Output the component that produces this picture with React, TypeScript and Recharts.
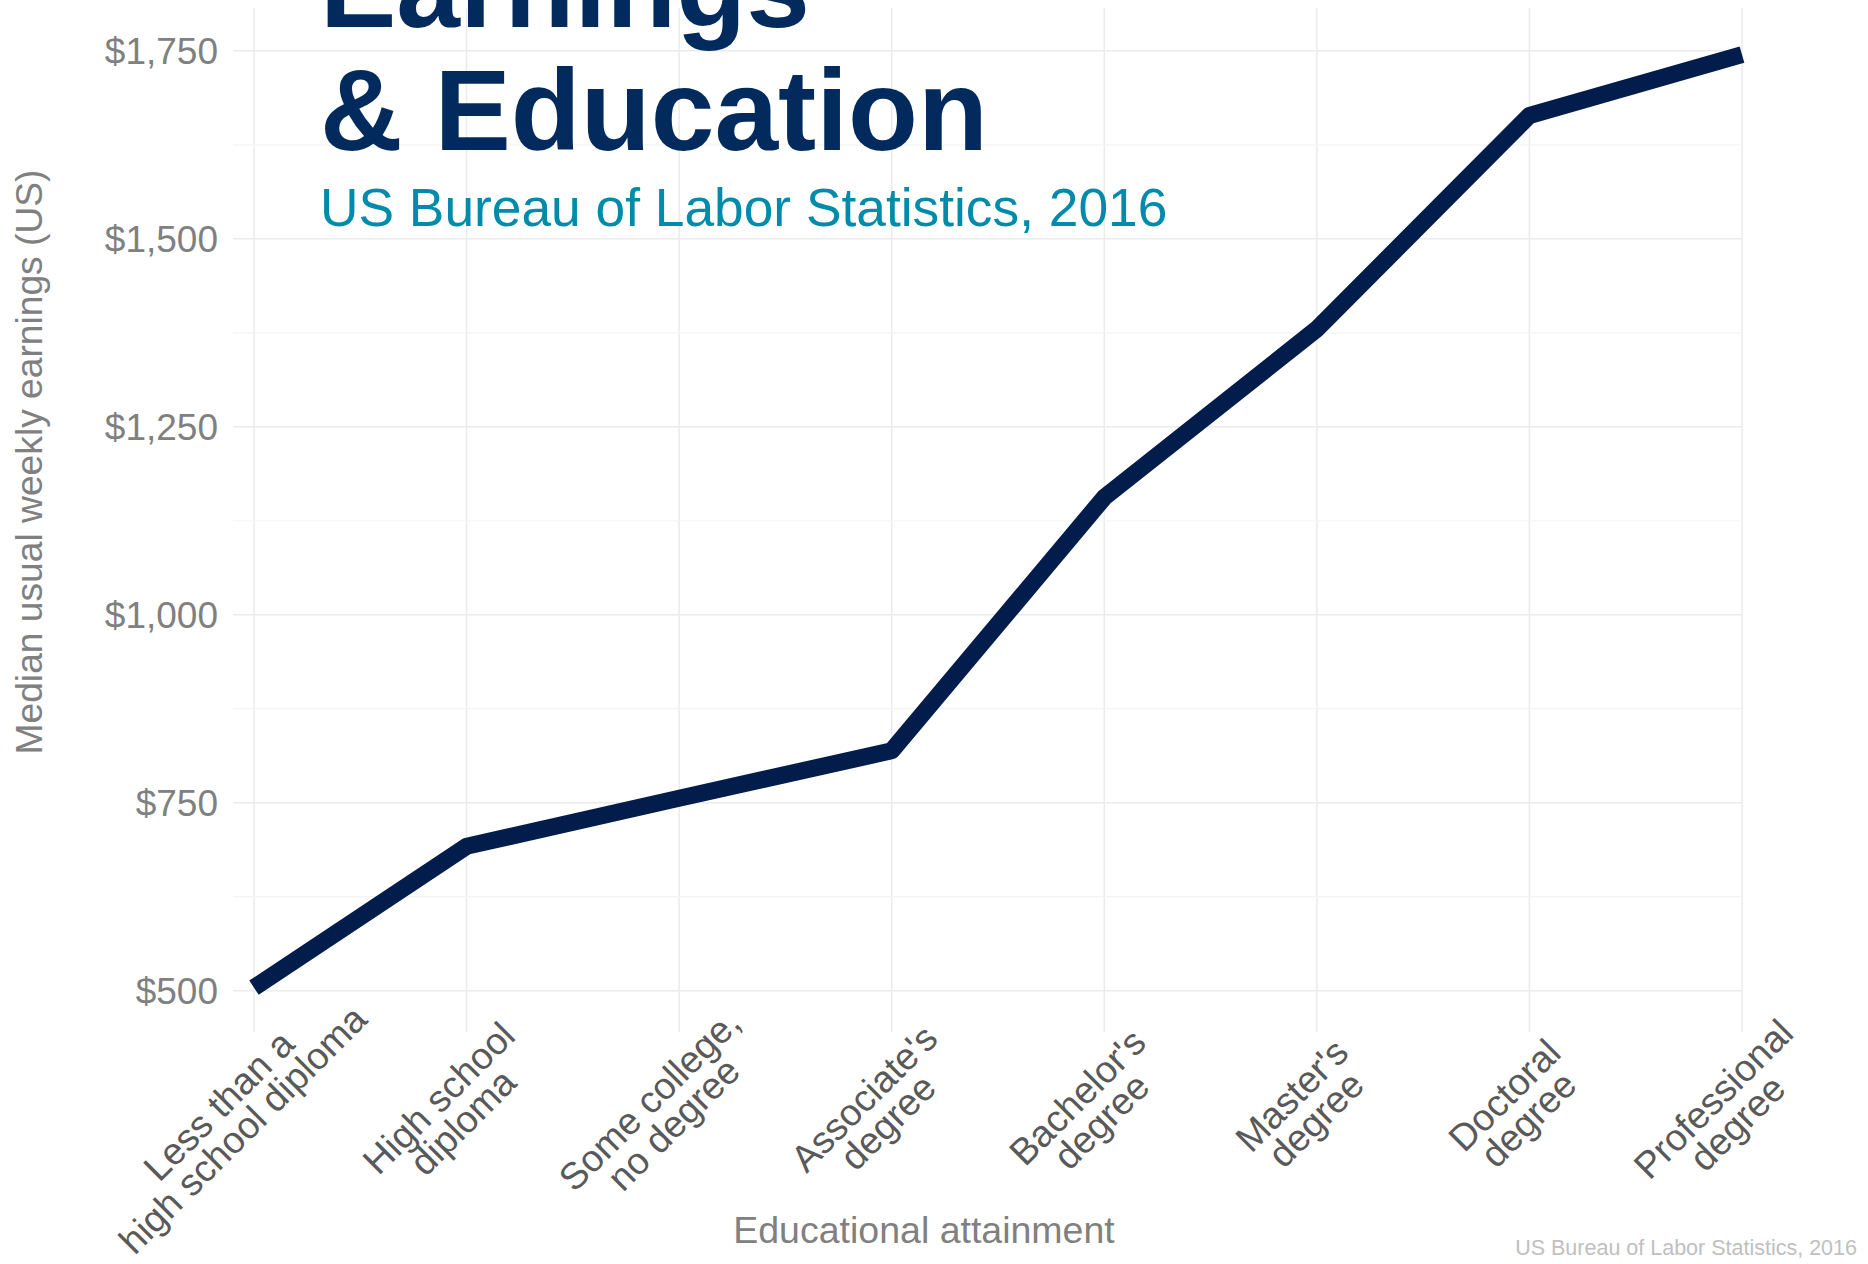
import React from 'react';
import { LineChart, Line, XAxis, YAxis, CartesianGrid, ReferenceLine } from 'recharts';

// Median usual weekly earnings by educational attainment, BLS 2016
const CATEGORIES = [
  'Less than a\nhigh school diploma',
  'High school\ndiploma',
  'Some college,\nno degree',
  "Associate's\ndegree",
  "Bachelor's\ndegree",
  "Master's\ndegree",
  'Doctoral\ndegree',
  'Professional\ndegree',
];
const EARNINGS = [504, 692, 756, 819, 1156, 1380, 1664, 1745];
const Y_TICKS = [500, 750, 1000, 1250, 1500, 1750];
const Y_MINOR = [625, 875, 1125, 1375, 1625];

const data = CATEGORIES.map((name, i) => ({ name, earnings: EARNINGS[i] }));

const W = 1868;
const H = 1264;
const FONT = '"Liberation Sans", Arial, Helvetica, sans-serif';
const TICK_FS = 37.5;

const money = (v: number) => '$' + v.toLocaleString('en-US');

// rotated two-line labels, slightly right-justified like ggplot's hjust
function XTick(props: any) {
  const { x, y, payload } = props;
  const lines = String(payload.value).split('\n');
  const w = Math.max(...lines.map((l) => l.length)) * 0.5 * TICK_FS;
  const along = -52 - 0.07 * w;
  const perp = 40;
  const dx = (along + perp) * 0.7071;
  const dy = (-along + perp) * 0.7071;
  return (
    <g transform={`translate(${x},${y})`}>
      <text
        transform={`translate(${dx},${dy}) rotate(-45)`}
        textAnchor="middle"
        fill="#595959"
        fontSize={TICK_FS}
        fontFamily={FONT}
      >
        {lines.map((l, i) => (
          <tspan key={i} x={0} dy={i === 0 ? 0 : 34}>
            {l}
          </tspan>
        ))}
      </text>
    </g>
  );
}

export default function App() {
  return (
    <div
      style={{
        position: 'absolute',
        left: 0,
        top: 0,
        width: W,
        height: H,
        background: '#fff',
        fontFamily: FONT,
      }}
    >
      <LineChart
        width={W}
        height={H}
        data={data}
        margin={{ top: 8, right: 126, bottom: 0, left: 0 }}
      >
        <CartesianGrid stroke="#ebebeb" strokeWidth={1.5} syncWithTicks />
        {Y_MINOR.map((v) => (
          <ReferenceLine key={v} y={v} stroke="#f4f4f4" strokeWidth={1.2} />
        ))}
        <XAxis
          dataKey="name"
          interval={0}
          height={232}
          padding={{ left: 21, right: 0 }}
          axisLine={false}
          tickLine={false}
          tickSize={0}
          tickMargin={0}
          tick={<XTick />}
          label={{
            content: () => (
              <text x={924} y={1243} textAnchor="middle" fill="#808080" fontSize={37.5} fontFamily={FONT}>
                Educational attainment
              </text>
            ),
          }}
        />
        <YAxis
          width={233}
          domain={[445, 1807]}
          ticks={Y_TICKS}
          tickFormatter={money}
          axisLine={false}
          tickLine={false}
          tickSize={0}
          tickMargin={15}
          tick={{ fill: '#808080', fontSize: 37, fontFamily: FONT }}
          label={{
            content: () => (
              <text
                x={42}
                y={462}
                transform="rotate(-90 42 462)"
                textAnchor="middle"
                fill="#808080"
                fontSize={37.2}
                fontFamily={FONT}
              >
                Median usual weekly earnings (US)
              </text>
            ),
          }}
        />
        <Line
          type="linear"
          dataKey="earnings"
          stroke="#021c4b"
          strokeWidth={17}
          strokeLinejoin="round"
          dot={false}
          activeDot={false}
          isAnimationActive={false}
        />
      </LineChart>
      <svg
        width={W}
        height={H}
        style={{ position: 'absolute', left: 0, top: 0, pointerEvents: 'none' }}
      >
        <text x={320} y={27} fill="#022a5c" fontSize={114.5} fontWeight="bold" fontFamily={FONT}>
          Earnings
        </text>
        <text x={320} y={150} fill="#022a5c" fontSize={114.5} fontWeight="bold" fontFamily={FONT}>
          &amp; Education
        </text>
        <text x={320} y={226} fill="#008baa" fontSize={53.3} fontFamily={FONT}>
          US Bureau of Labor Statistics, 2016
        </text>
        <text x={1857} y={1255} textAnchor="end" fill="#c0c0c0" fontSize={21.5} fontFamily={FONT}>
          US Bureau of Labor Statistics, 2016
        </text>
      </svg>
    </div>
  );
}
